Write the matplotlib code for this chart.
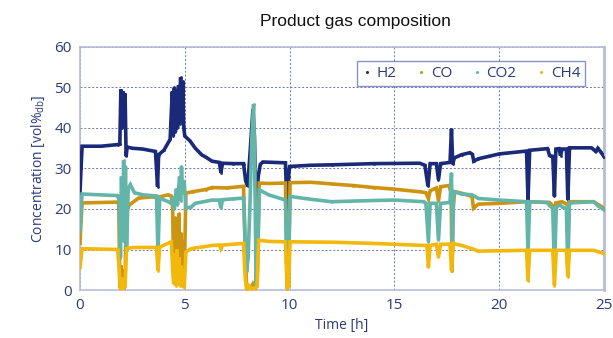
import matplotlib
matplotlib.use("Agg")
import matplotlib.pyplot as plt
from matplotlib.lines import Line2D

# ---------------- data ----------------
H2_t = [0.0, 0.05, 0.1, 1.0, 1.8, 1.9, 1.95, 2.0, 2.05, 2.1, 2.15, 2.2, 2.25, 2.5, 3.0, 3.6, 3.7, 3.75,
        4.0, 4.3, 4.4, 4.45, 4.5, 4.55, 4.6, 4.65, 4.7, 4.75, 4.8, 4.85, 4.9, 4.95, 5.0, 5.25, 5.5, 5.8,
        6.0, 6.3, 6.65, 6.72, 6.8, 7.3, 7.8, 7.9, 8.0, 8.1, 8.25, 8.32, 8.4, 8.5, 8.6, 8.72, 9.8, 9.88,
        9.95, 10.0, 11.0, 12.0, 14.0, 16.2, 16.45, 16.6, 16.7, 17.0, 17.1, 17.2, 17.65, 17.72, 17.78,
        17.85, 18.2, 18.6, 18.72, 18.78, 19.0, 19.5, 20.0, 21.3, 21.37, 21.45, 22.3, 22.4, 22.55, 22.63,
        22.7, 22.85, 22.92, 23.0, 23.2, 23.27, 23.35, 24.4, 24.6, 24.7, 24.85, 25.0]
H2_v = [24, 30, 35.5, 35.5, 35.9, 36, 49.5, 40, 49, 45, 48.5, 33, 35.3, 35, 34.8, 34.2, 25.5, 33.4,
        34.5, 37.2, 49, 38, 50, 39, 49.5, 40, 50.5, 41, 52.5, 42, 51.5, 40, 38, 36.8, 35, 33.4,
        32.8, 31.8, 31.5, 29, 31.3, 31.2, 31.2, 27, 25.6, 33, 44.6, 38, 19, 28, 31, 31.6, 31.4, 19,
        28, 30.5, 30.8, 30.9, 31.2, 31.3, 30.8, 25.6, 31.2, 31.2, 27.2, 31.2, 31.5, 39.8, 31,
        32.6, 33.4, 33.9, 33.5, 31.8, 32.4, 33.0, 33.6, 34.3, 22.2, 34.5, 34.9, 33.2, 33.0, 23.1,
        34.8, 34.9, 33.2, 34.8, 34.8, 22.2, 35.1, 35.1, 34.2, 35.0, 34.0, 32.9]

CO_t = [0.0, 0.05, 0.1, 1.8, 1.85, 1.9, 1.95, 2.0, 2.05, 2.1, 2.15, 2.2, 2.35, 2.8, 3.5, 3.7, 3.75,
        3.8, 4.2, 4.36, 4.42, 4.47, 4.52, 4.57, 4.62, 4.67, 4.72, 4.77, 4.82, 4.87, 4.92, 4.97, 5.05,
        5.4, 6.0, 6.3, 7.0, 7.8, 7.88, 7.95, 8.05, 8.15, 8.25, 8.35, 8.45, 8.55, 9.0, 9.8, 9.88, 9.95,
        10.02, 11.0, 12.0, 13.0, 14.0, 15.0, 16.3, 16.5, 16.62, 16.7, 17.0, 17.1, 17.2, 17.6, 17.7,
        17.75, 17.8, 17.87, 18.2, 18.7, 18.77, 19.0, 20.0, 21.3, 21.37, 21.45, 22.4, 22.6, 22.65, 22.7,
        23.0, 23.27, 23.35, 24.5, 25.0]
CO_v = [11.5, 17, 21.5, 21.7, 21, 0.5, 6, 2, 5, 0.5, 1, 18.9, 21, 22.7, 23, 22.8, 20.5,
        23, 23.5, 23.2, 20, 3, 18, 2, 16, 4, 19, 2, 14, 3, 12, 2, 23.9,
        24.3, 24.8, 25.3, 25.2, 25.6, 10, 0.3, 1, 0.5, 1.5, 0.5, 2, 26.4, 26.3, 26.4, 0.3, 1,
        26.5, 26.6, 26.2, 25.8, 25.3, 24.9, 24.2, 24.0, 22.5, 24.5, 25.2, 22, 25.5, 25.8, 24,
        4.8, 20, 24.3, 23.9, 23.1, 20.2, 21.2, 21.4, 21.8, 21.0, 21.8, 21.6, 20.5, 20.0, 21.5,
        21.8, 21.0, 21.8, 21.8, 20.2]

CO2_t = [0.0, 0.05, 0.1, 1.8, 1.87, 1.93, 1.98, 2.03, 2.08, 2.13, 2.17, 2.22, 2.3, 2.4, 2.6, 3.0, 3.65,
         3.72, 3.8, 4.3, 4.36, 4.45, 4.5, 4.6, 4.65, 4.75, 4.8, 4.84, 4.9, 4.97, 5.05, 5.3, 5.5, 6.3,
         6.65, 6.72, 6.8, 7.3, 7.8, 7.88, 7.95, 8.02, 8.1, 8.2, 8.28, 8.34, 8.4, 8.48, 8.56, 9.0, 9.8,
         9.88, 9.95, 10.02, 11.0, 12.0, 14.0, 15.0, 16.4, 16.5, 16.62, 16.7, 17.0, 17.1, 17.2, 17.65,
         17.72, 17.76, 17.82, 18.2, 18.7, 19.0, 20.0, 21.3, 21.37, 21.45, 22.3, 22.4, 22.55, 22.63,
         22.72, 22.9, 23.0, 23.2, 23.27, 23.35, 24.5, 24.7, 25.0]
CO2_v = [14.8, 20, 23.7, 23.3, 22, 8, 28, 12, 32, 20, 30.5, 10, 25, 26, 24, 23.5, 23.2,
         9, 22.7, 21.6, 21.4, 23, 20, 25, 21, 28, 22, 30.5, 24, 27, 20.2, 20.5, 21.4, 22.2,
         22.2, 20.2, 22.3, 22.5, 22.7, 12, 4.8, 8, 20, 38, 45.9, 30, 0.7, 10, 24.7, 23.5, 22.2,
         2, 8, 23.1, 22.4, 21.8, 22.1, 22.2, 21.8, 21.4, 11.9, 21.4, 21.4, 12.3, 21.4, 21.6,
         28.9, 10, 24.3, 23.7, 23.5, 22.6, 22.2, 21.8, 9, 21.8, 21.6, 20.8, 20.2, 4.8,
         20.5, 21.0, 20.5, 20.2, 4.8, 21.5, 21.8, 20.8, 19.8]

CH4_t = [0.0, 0.05, 0.1, 1.8, 1.87, 1.93, 2.0, 2.07, 2.15, 2.22, 2.5, 3.65, 3.72, 3.8, 4.36, 4.42,
         4.47, 4.52, 4.57, 4.62, 4.67, 4.72, 4.77, 4.82, 4.87, 4.92, 4.97, 5.05, 5.3, 6.3, 6.65, 6.72,
         6.8, 7.8, 7.88, 7.95, 8.05, 8.15, 8.25, 8.35, 8.45, 8.52, 9.0, 9.8, 9.88, 9.95, 10.02, 12.0,
         14.0, 16.4, 16.55, 16.62, 16.7, 17.0, 17.1, 17.2, 17.65, 17.72, 17.8, 18.2, 18.7, 19.0, 21.3,
         21.37, 21.45, 22.55, 22.63, 22.72, 23.2, 23.27, 23.35, 24.5, 25.0]
CH4_v = [5.6, 8, 10.2, 10.0, 5, 0.2, 3, 0.5, 1, 10.2, 10.5, 10.5, 4.8, 10.6, 11.9, 5,
         1.5, 9, 1, 10, 2, 8, 1, 6, 1, 5, 0.5, 9.4, 10.2, 11, 11.1, 10.2,
         11.1, 11.5, 3, 0.2, 1, 0.3, 0.5, 0.3, 1, 12.3, 12.0, 11.9, 0.3, 1, 11.9, 11.8,
         11.5, 11.0, 11.0, 5.6, 11.0, 11.3, 8.1, 11.3, 11.3, 4.8, 11.5, 11.0, 10.2, 9.6, 9.8,
         2.3, 9.8, 9.8, 1.1, 9.8, 9.8, 3.2, 9.8, 9.8, 9.0]

series_names = ["H2", "CO", "CO2", "CH4"]
x_ticks = [0, 5, 10, 15, 20, 25]
y_ticks = [0, 10, 20, 30, 40, 50, 60]

colors = {"H2": "#1b2a78", "CO": "#cc9410", "CO2": "#62b5a8", "CH4": "#f2b80c"}
navy = "#2b3a7c"

# ---------------- figure ----------------
fig = plt.figure(figsize=(6.13, 3.38), dpi=100)
ax = fig.add_axes([0.1305, 0.142, 0.855, 0.719])

data = {"H2": (H2_t, H2_v), "CO": (CO_t, CO_v), "CO2": (CO2_t, CO2_v), "CH4": (CH4_t, CH4_v)}
for name in series_names:
    t, v = data[name]
    ax.plot(t, v, color=colors[name], lw=2.6, marker="o", ms=2.0, mew=0,
            solid_joinstyle="miter", zorder=3)

ax.set_xlim(0, 25)
ax.set_ylim(0, 60)
ax.set_xticks(x_ticks)
ax.set_yticks(y_ticks)
ax.grid(True, color="#6a78b4", linestyle=(0, (2, 2)), linewidth=0.7)
ax.set_axisbelow(True)
for s in ax.spines.values():
    s.set_color("#b4bcd8")
    s.set_linewidth(1.2)
ax.spines["right"].set_linewidth(2.0)
ax.tick_params(axis="both", length=0, colors=navy, labelsize=11, pad=6)
for lab in ax.get_xticklabels() + ax.get_yticklabels():
    lab.set_fontfamily("Open Sans")

ax.set_xlabel("Time [h]", color=navy, fontsize=10, family="Open Sans", labelpad=3)
ax.set_ylabel("Concentration [vol%$_{\\mathregular{db}}$]", color=navy, fontsize=10,
              family="Open Sans", labelpad=5)
fig.text(0.58, 0.935, "Product gas composition", ha="center", va="center",
         fontsize=12.5, family="Liberation Sans", color="#111111")

handles = [Line2D([], [], linestyle="none", marker="o", ms=2.2, mew=0, color=colors[n])
           for n in series_names]
leg = ax.legend(handles, series_names, ncol=4, loc="upper right",
                bbox_to_anchor=(0.978, 0.972), frameon=True, fancybox=False,
                handlelength=0.6, handletextpad=0.35, columnspacing=1.3,
                borderpad=0.3, prop={"family": "Open Sans", "size": 11})
leg.get_frame().set_edgecolor("#6a78b4")
leg.get_frame().set_linewidth(1.0)
for txt in leg.get_texts():
    txt.set_color(navy)

fig.savefig("out.png", dpi=100)
